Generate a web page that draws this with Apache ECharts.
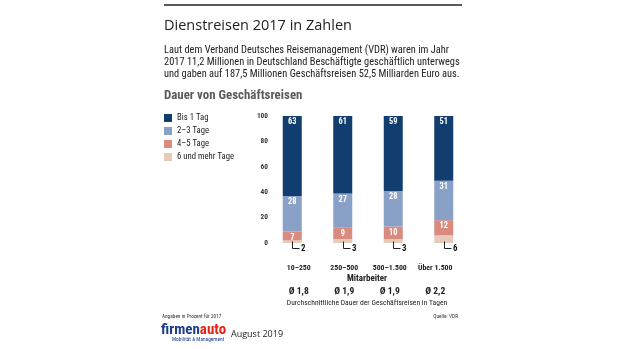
<!DOCTYPE html>
<html><head><meta charset="utf-8">
<script src="https://cdn.jsdelivr.net/npm/echarts@6/dist/echarts.min.js"></script>
<style>html,body{margin:0;padding:0;background:#fff}#c{width:620px;height:349px}</style>
</head><body><div id="c"></div>
<script>
const categories = ['10–250', '250–500', '500–1.500', 'Über 1.500'];
const averages = ['Ø 1,8', 'Ø 1,9', 'Ø 1,9', 'Ø 2,2'];
const seriesNames = ['Bis 1 Tag', '2–3 Tage', '4–5 Tage', '6 und mehr Tage'];
const bis1Tag = [63, 61, 59, 51];
const tage2bis3 = [28, 27, 28, 31];
const tage4bis5 = [7, 9, 10, 12];
const tage6plus = [2, 3, 3, 6];
const yTicks = [0, 20, 40, 60, 80, 100];

const titleText = 'Dienstreisen 2017 in Zahlen';
const introLines = [
  'Laut dem Verband Deutsches Reisemanagement (VDR) waren im Jahr',
  '2017 11,2 Millionen in Deutschland Beschäftigte geschäftlich unterwegs',
  'und gaben auf 187,5 Millionen Geschäftsreisen 52,5 Milliarden Euro aus.'
];
const subtitleText = 'Dauer von Geschäftsreisen';
const xName = 'Mitarbeiter';
const avgName = 'Durchschnittliche Dauer der Geschäftsreisen in Tagen';
const noteText = 'Angaben in Prozent für 2017';
const sourceText = 'Quelle: VDR';
const dateText = 'August 2019';

// ---- font helpers (style only) ----
const ctx = document.createElement('canvas').getContext('2d');
function tw(font, text) { ctx.font = font; return ctx.measureText(text).width; }
const probe = 'abcdefghijklmnopqrstuvwxyz ABCDEFGHIJ 0123456789';
function installed(name) {
  return ['monospace', 'serif'].some(fb => Math.abs(tw('20px "' + name + '", ' + fb, probe) - tw('20px ' + fb, probe)) > 0.01);
}
function ink(font) {
  const c = document.createElement('canvas'); c.width = 500; c.height = 80;
  const g = c.getContext('2d', {willReadFrequently: true});
  g.font = font; g.fillStyle = '#000'; g.textBaseline = 'middle';
  g.fillText('Hamburgefonts', 5, 40);
  const d = g.getImageData(0, 0, 500, 80).data; let s = 0;
  for (let i = 3; i < d.length; i += 4) s += d[i];
  return s / 255;
}
const narrowCands = ['Liberation Sans Narrow', 'Arial Narrow', 'Roboto Condensed', 'Open Sans Condensed', 'Noto Sans Condensed', 'DejaVu Sans Condensed'];
let best = null, bestW = 1e9;
narrowCands.forEach(n => {
  if (!installed(n)) return;
  const f = '"' + n + '"';
  const ratio = ink('bold 40px ' + f) / ink('normal 40px ' + f);
  if (ratio < 1.12) return; // normal weight not lighter than bold: skip
  const w = tw('20px ' + f, probe);
  if (w < bestW) { bestW = w; best = n; }
});
const NARROW = '"' + (best || 'DejaVu Sans Condensed') + '", sans-serif';
const SANS = '"Open Sans", "Noto Sans", sans-serif';
function fit(text, weight, fam, target) {
  const w = tw(weight + ' 20px ' + fam, text);
  return Math.round(20 * target / w * 10) / 10;
}

const fsTitle = Math.min(16, fit(titleText, 'normal', SANS, 188));
const fsIntro = fit(introLines[1], 'normal', NARROW, 296);
const fsSub = fit(subtitleText, 'bold', NARROW, 138);
const fsLegend = fit('6 und mehr Tage', 'normal', NARROW, 57);
const fsXLab = fit('500–1.500', 'bold', NARROW, 34);
const fsAvg = fit('Ø 2,2', 'bold', NARROW, 20);
const fsXName = fit(xName, 'bold', NARROW, 40);
const fsAvgName = fit(avgName, 'normal', NARROW, 161);
const fsSeg = fit('63', 'bold', NARROW, 8.5);
const fsY = fit('100', 'bold', NARROW, 11);
const fsNote = fit(noteText, 'normal', NARROW, 59);
const fsSource = fit(sourceText, 'normal', NARROW, 25);
const fsLogo = fit('firmenauto', 'bold', NARROW, 65);
const fsLogoSub = fit('Mobilität & Management', 'normal', NARROW, 52);
const fsDate = fit(dateText, 'normal', SANS, 52);

const colors = ['#123d6f', '#8aa1c7', '#d98b80', '#e6cbbb'];

const chart = echarts.init(document.getElementById('c'), null, {renderer: 'canvas'});

const segLabel = {
  show: true, position: 'insideTop', distance: 2,
  color: '#fff', fontFamily: NARROW, fontWeight: 'bold', fontSize: fsSeg
};

function barSeries(name, data, color, label) {
  return {
    name: name, type: 'bar', stack: 'all', data: data, barWidth: 19,
    xAxisIndex: 0, yAxisIndex: 0,
    itemStyle: {color: color},
    label: label ? segLabel : {show: false},
    emphasis: {disabled: true}
  };
}

function txt(text, x, y, font, fill, align) {
  return {type: 'text', x: x, y: y, style: {text: text, font: font, fill: fill,
    align: align || 'left', verticalAlign: 'middle'}};
}

const option = {
  animation: false,
  backgroundColor: '#fff',
  color: colors,
  legend: {
    data: seriesNames,
    orient: 'vertical', left: 164, top: 113, padding: 0,
    icon: 'rect', itemWidth: 8, itemHeight: 8, itemGap: 3,
    textStyle: {fontFamily: NARROW, fontSize: fsLegend, color: '#222', lineHeight: 10},
    selectedMode: false
  },
  grid: [
    {left: 267, right: 151, top: 116, height: 127},
    {left: 276, right: 162, top: 116, height: 127}
  ],
  xAxis: [
    {type: 'category', gridIndex: 0, data: categories,
     axisLine: {show: false}, axisTick: {show: false}, axisLabel: {show: false}, splitLine: {show: false}},
    {type: 'category', gridIndex: 1, data: categories, position: 'bottom',
     axisLine: {show: false}, axisTick: {show: false},
     axisLabel: {interval: 0, margin: 21, fontFamily: NARROW, fontWeight: 'bold', fontSize: fsXLab, color: '#222'},
     name: xName, nameLocation: 'middle', nameGap: 31,
     nameTextStyle: {fontFamily: NARROW, fontWeight: 'bold', fontSize: fsXName, color: '#222'}},
    {type: 'category', gridIndex: 1, data: averages, position: 'bottom', offset: 24,
     axisLine: {show: false}, axisTick: {show: false},
     axisLabel: {interval: 0, margin: 20, fontFamily: NARROW, fontWeight: 'bold', fontSize: fsAvg, color: '#222'},
     name: avgName, nameLocation: 'middle', nameGap: 32,
     nameTextStyle: {fontFamily: NARROW, fontSize: fsAvgName, color: '#222'}}
  ],
  yAxis: [
    {type: 'value', gridIndex: 0, min: yTicks[0], max: yTicks[yTicks.length - 1], interval: 20,
     axisLine: {show: false}, axisTick: {show: false}, splitLine: {show: false},
     axisLabel: {margin: -1, fontFamily: NARROW, fontWeight: 'bold', fontSize: fsY, color: '#333'}},
    {type: 'value', gridIndex: 1, show: false, min: 0, max: 100}
  ],
  series: [
    barSeries(seriesNames[3], tage6plus, colors[3], false),
    barSeries(seriesNames[2], tage4bis5, colors[2], true),
    barSeries(seriesNames[1], tage2bis3, colors[1], true),
    barSeries(seriesNames[0], bis1Tag, colors[0], true),
    {
      type: 'custom', xAxisIndex: 0, yAxisIndex: 0, z: 10, silent: true,
      data: categories.map((c, i) => [i, tage6plus[i]]),
      renderItem: function (params, api) {
        const i = api.value(0), v = api.value(1);
        const base = api.coord([i, 0]);
        const x0 = Math.round(base[0]) + 0.5;
        const yTop = base[1] - 1.5;
        const y1 = Math.round(base[1] + 5) + 0.5;
        return {type: 'group', children: [
          {type: 'polyline', shape: {points: [[x0, yTop], [x0, y1], [x0 + 7, y1]]},
           style: {stroke: '#222', lineWidth: 1, fill: null}},
          {type: 'text', style: {text: String(v), x: x0 + 8.5, y: y1, fill: '#111',
            font: 'bold ' + (fsSeg + 0.5) + 'px ' + NARROW, verticalAlign: 'middle', align: 'left'}}
        ]};
      }
    }
  ],
  graphic: [
    {type: 'line', shape: {x1: 164, y1: 5, x2: 462, y2: 5}, style: {stroke: '#222', lineWidth: 1.4}},
    txt(titleText, 164, 26, fsTitle + 'px ' + SANS, '#222'),
    txt(introLines[0], 164, 50.5, fsIntro + 'px ' + NARROW, '#222'),
    txt(introLines[1], 164, 62.7, fsIntro + 'px ' + NARROW, '#222'),
    txt(introLines[2], 164, 74.9, fsIntro + 'px ' + NARROW, '#222'),
    txt(subtitleText, 164, 96, 'bold ' + fsSub + 'px ' + NARROW, '#5a5a5a'),
    txt(noteText, 162, 316.5, fsNote + 'px ' + NARROW, '#333'),
    txt(sourceText, 458, 317, fsSource + 'px ' + NARROW, '#333', 'right'),
    {type: 'text', x: 161, y: 330, style: {
      text: '{a|firmen}{b|auto}', verticalAlign: 'middle', rich: {
        a: {fontFamily: NARROW, fontWeight: 'bold', fontSize: fsLogo, fill: '#1d3c8c', color: '#1d3c8c'},
        b: {fontFamily: NARROW, fontWeight: 'bold', fontSize: fsLogo, fill: '#e2231a', color: '#e2231a'}
      }}},
    txt('Mobilität & Management', 172, 339.5, fsLogoSub + 'px ' + NARROW, '#1d3c8c'),
    txt(dateText, 231, 334, fsDate + 'px ' + SANS, '#222')
  ]
};
chart.setOption(option);
</script>
</body></html>
